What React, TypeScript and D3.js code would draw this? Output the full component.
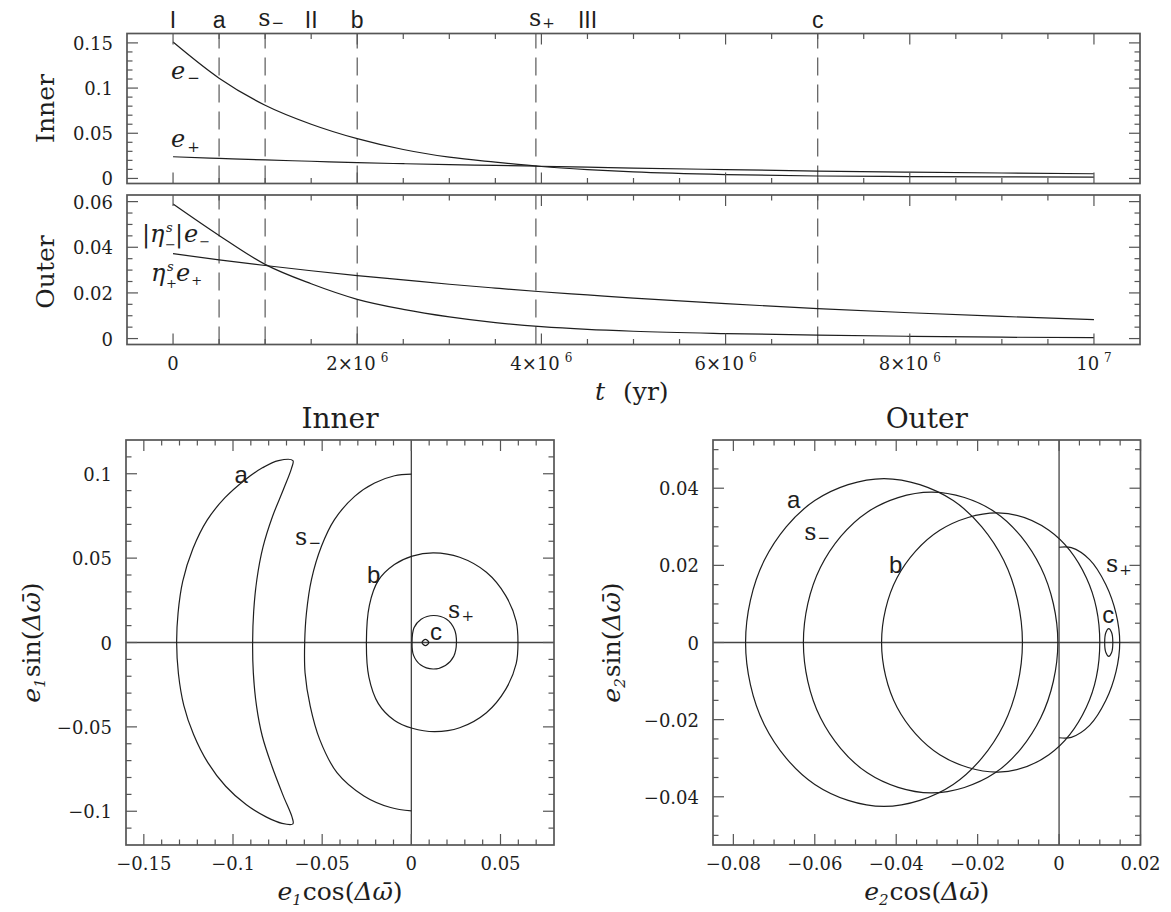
import React, { useEffect, useRef } from 'react';
import * as d3 from 'd3';

// ---- top panels: eccentricities vs time, t in units of 1e6 yr ----
const tMyr = [0, 0.5, 1, 1.5, 2, 2.5, 3, 3.5, 4, 4.5, 5, 6, 7, 8, 9, 10];
const innerEMinus = [0.151, 0.111, 0.081, 0.06, 0.044, 0.032, 0.0235, 0.018, 0.0132, 0.0098, 0.0072, 0.0042, 0.0027, 0.0021, 0.0017, 0.0015];
const innerEPlus = [0.024, 0.0222, 0.0205, 0.019, 0.0175, 0.0163, 0.0153, 0.0144, 0.0135, 0.0125, 0.0115, 0.0098, 0.0082, 0.007, 0.006, 0.0052];
const outerEMinus = [0.059, 0.0452, 0.0325, 0.024, 0.0172, 0.0128, 0.0095, 0.007, 0.0052, 0.004, 0.0032, 0.0022, 0.0015, 0.001, 0.0006, 0.0004];
const outerEPlus = [0.0372, 0.0345, 0.032, 0.0297, 0.0276, 0.0257, 0.0238, 0.0221, 0.0205, 0.0191, 0.0177, 0.0153, 0.0131, 0.0113, 0.0097, 0.0083];

// dashed snapshot times and the region / snapshot labels above the plot
const markerTimes = [0.5, 1, 2, 3.94, 7];
const topLabels = [
  { t: 0, text: 'I', sub: '' },
  { t: 0.5, text: 'a', sub: '' },
  { t: 1, text: 's', sub: '\u2212' },
  { t: 1.5, text: 'II', sub: '' },
  { t: 2, text: 'b', sub: '' },
  { t: 3.94, text: 's', sub: '+' },
  { t: 4.5, text: 'III', sub: '' },
  { t: 7, text: 'c', sub: '' },
];

const timeTicks = [0, 2, 4, 6, 8, 10];
const timeTickText = [['0', ''], ['2\u00d710', '6'], ['4\u00d710', '6'], ['6\u00d710', '6'], ['8\u00d710', '6'], ['10', '7']];
const innerYTicks = [0, 0.05, 0.1, 0.15];
const innerYText = ['0', '0.05', '0.1', '0.15'];
const outerYTicks = [0, 0.02, 0.04, 0.06];
const outerYText = ['0', '0.02', '0.04', '0.06'];

// ---- bottom-left: inner orbit, (e1 cos, e1 sin) trajectories ----
const innerA = [
  [-0.0664, 0.1078], [-0.0745, 0.1078], [-0.0835, 0.1035], [-0.0935, 0.0962],
  [-0.1045, 0.0858], [-0.1145, 0.0725], [-0.1225, 0.0555], [-0.1282, 0.0362], [-0.1308, 0.0175], [-0.1316, 0],
  [-0.1306, -0.0185], [-0.1276, -0.0372], [-0.1221, -0.0545], [-0.1141, -0.0712], [-0.1041, -0.0852],
  [-0.0925, -0.0962], [-0.0812, -0.1035], [-0.0725, -0.1072], [-0.0664, -0.1075],
  [-0.0668, -0.1038], [-0.0718, -0.0909],
  [-0.0782, -0.0732], [-0.0836, -0.0554], [-0.0868, -0.0377], [-0.0886, -0.018], [-0.089, 0],
  [-0.0884, 0.0185], [-0.0866, 0.0375], [-0.0832, 0.0565], [-0.0778, 0.0748], [-0.0718, 0.0905], [-0.0672, 0.1032],
];
const innerSMinus = [
  [0, 0.0998], [-0.0094, 0.0988], [-0.0206, 0.0945], [-0.0318, 0.0866], [-0.0431, 0.0728],
  [-0.0504, 0.057], [-0.056, 0.0373], [-0.0588, 0.0176], [-0.0598, 0], [-0.0596, -0.0179],
  [-0.0567, -0.0377], [-0.0514, -0.0574], [-0.0417, -0.0771], [-0.0266, -0.0909], [-0.0116, -0.0978],
  [0, -0.0998],
];
const innerB = [
  [0.0598, 0], [0.0588, 0.0125], [0.0529, 0.0278], [0.0421, 0.0416], [0.0271, 0.0505],
  [0.0125, 0.0531], [0.0005, 0.0512], [-0.0095, 0.0462], [-0.0185, 0.0368], [-0.0235, 0.0222],
  [-0.0252, 0], [-0.0238, -0.0205], [-0.0185, -0.0362], [-0.0094, -0.0462], [0.0005, -0.0508],
  [0.0131, -0.0528], [0.0271, -0.0505], [0.0421, -0.0416], [0.0529, -0.0278], [0.0588, -0.0125],
];
const innerSPlus = [
  [0.0004, 0], [0.0015, 0.0087], [0.0055, 0.0138], [0.0125, 0.016], [0.0198, 0.0138],
  [0.0242, 0.0077], [0.0253, 0], [0.0238, -0.0081], [0.0191, -0.0136], [0.0122, -0.0157],
  [0.0051, -0.0132], [0.0012, -0.0075],
];
const innerC = [[0.0098, 0], [0.0079, 0.0019], [0.006, 0], [0.0079, -0.0019]];

const innerXTicks = [-0.15, -0.1, -0.05, 0, 0.05];
const innerXText = ['\u22120.15', '\u22120.1', '\u22120.05', '0', '0.05'];
const innerPhaseYTicks = [-0.1, -0.05, 0, 0.05, 0.1];
const innerPhaseYText = ['\u22120.1', '\u22120.05', '0', '0.05', '0.1'];

// ---- bottom-right: outer orbit ----
const outerA = [
  [-0.009, 0], [-0.0136, 0.0213], [-0.026, 0.0368], [-0.043, 0.0425], [-0.06, 0.0368], [-0.0724, 0.0213],
  [-0.077, 0], [-0.0724, -0.0213], [-0.06, -0.0368], [-0.043, -0.0425], [-0.026, -0.0368], [-0.0136, -0.0213],
];
const outerSMinus = [
  [-0.0003, 0], [-0.0045, 0.0195], [-0.0157, 0.0338], [-0.0314, 0.039], [-0.0471, 0.0338], [-0.0586, 0.0195],
  [-0.0628, 0], [-0.0586, -0.0195], [-0.0471, -0.0338], [-0.0314, -0.039], [-0.0157, -0.0338], [-0.0045, -0.0195],
];
const outerB = [
  [0.01, 0], [0.0067, 0.0168], [-0.0025, 0.0291], [-0.015, 0.0336], [-0.0293, 0.0291], [-0.0398, 0.0168],
  [-0.0436, 0], [-0.0398, -0.0168], [-0.0293, -0.0291], [-0.015, -0.0336], [-0.0025, -0.0291], [0.0067, -0.0168],
];
const outerSPlus = [
  [0, 0.0247], [0.003, 0.0246], [0.0075, 0.0215], [0.0115, 0.015], [0.014, 0.0075], [0.0149, 0],
  [0.014, -0.0075], [0.0115, -0.015], [0.0075, -0.0215], [0.003, -0.0246], [0, -0.0247],
];
const outerC = [
  [0.0132, 0], [0.0129, 0.0026], [0.0122, 0.0036], [0.0115, 0.0026],
  [0.0112, 0], [0.0115, -0.0026], [0.0122, -0.0036], [0.0129, -0.0026],
];

const outerXTicks = [-0.08, -0.06, -0.04, -0.02, 0, 0.02];
const outerXText = ['\u22120.08', '\u22120.06', '\u22120.04', '\u22120.02', '0', '0.02'];
const outerPhaseYTicks = [-0.04, -0.02, 0, 0.02, 0.04];
const outerPhaseYText = ['\u22120.04', '\u22120.02', '0', '0.02', '0.04'];

const SERIF = "'DejaVu Serif', 'Liberation Serif', serif";
const SANS = "'Liberation Sans', Arial, sans-serif";
const INK = '#1e1e1e';
const FRAME = '#555';

const steps = (a, b, n) => d3.range(0, n + 1).map(i => a + ((b - a) * i) / n);
const near = (v, arr) => arr.some(m => Math.abs(m - v) < 1e-9);

function drawFrame(g, x, y, xMinor, xMajor, yMinor, yMajor) {
  const [x0, x1] = x.range();
  const [yb, yt] = y.range();
  const tk = g.append('g').attr('stroke', FRAME).attr('stroke-width', 1.2);
  xMinor.forEach(v => {
    const len = near(v, xMajor) ? 11 : 5.5;
    const px = x(v);
    tk.append('line').attr('x1', px).attr('x2', px).attr('y1', yb).attr('y2', yb - len);
    tk.append('line').attr('x1', px).attr('x2', px).attr('y1', yt).attr('y2', yt + len);
  });
  yMinor.forEach(v => {
    const len = near(v, yMajor) ? 11 : 5.5;
    const py = y(v);
    tk.append('line').attr('x1', x0).attr('x2', x0 + len).attr('y1', py).attr('y2', py);
    tk.append('line').attr('x1', x1).attr('x2', x1 - len).attr('y1', py).attr('y2', py);
  });
  g.append('rect')
    .attr('x', x0).attr('y', yt).attr('width', x1 - x0).attr('height', yb - yt)
    .attr('fill', 'none').attr('stroke', FRAME).attr('stroke-width', 1.7);
}

// text made of pieces with their own offsets / sizes / styles
function rich(g, x, y, parts, size, family, anchor = 'start', rotate = 0) {
  const t = g.append('text')
    .attr('transform', `translate(${x},${y}) rotate(${rotate})`)
    .attr('font-family', family)
    .attr('font-size', size)
    .attr('fill', INK)
    .attr('text-anchor', anchor);
  parts.forEach(p => {
    const s = t.append('tspan').text(p.t);
    if (p.dx) s.attr('dx', p.dx);
    if (p.dy) s.attr('dy', p.dy);
    if (p.size) s.attr('font-size', p.size);
    if (p.italic) s.attr('font-style', 'italic');
    if (p.family) s.attr('font-family', p.family);
  });
  return t;
}

function yTickLabels(g, y, x0, vals, texts) {
  vals.forEach((v, i) => {
    g.append('text')
      .attr('x', x0 - 14).attr('y', y(v) + 7)
      .attr('text-anchor', 'end')
      .attr('font-family', SERIF).attr('font-size', 18).attr('fill', INK)
      .text(texts[i]);
  });
}

function xTickLabels(g, x, yb, vals, texts) {
  vals.forEach((v, i) => {
    g.append('text')
      .attr('x', x(v)).attr('y', yb + 25)
      .attr('text-anchor', 'middle')
      .attr('font-family', SERIF).attr('font-size', 18).attr('fill', INK)
      .text(texts[i]);
  });
}

function phaseLabel(idx, fn) {
  return [
    { t: 'e', italic: true },
    { t: idx, italic: true, size: 15, dy: 5 },
    { t: fn + '(', dy: -5, dx: 1 },
    { t: '\u0394', italic: true },
    { t: '\u03c9\u0304', italic: true },
    { t: ')' },
  ];
}

export default function App() {
  const ref = useRef(null);

  useEffect(() => {
    const svg = d3.select(ref.current);
    svg.selectAll('*').remove();
    const root = svg.append('g');

    // ===== top: time evolution =====
    const t = d3.scaleLinear().domain([-0.5, 10.5]).range([127, 1140]);
    const yIn = d3.scaleLinear().domain([-0.0056, 0.1604]).range([183.5, 33.5]);
    const yOut = d3.scaleLinear().domain([-0.0026, 0.0629]).range([344.5, 195]);
    const tMinor = steps(0, 10, 20);
    const line = d3.line().curve(d3.curveMonotoneX);

    const panels = [
      { y: yIn, series: [innerEMinus, innerEPlus], yt: innerYTicks, ytxt: innerYText, minor: steps(0, 0.15, 15), name: 'Inner', mid: 108.5 },
      { y: yOut, series: [outerEMinus, outerEPlus], yt: outerYTicks, ytxt: outerYText, minor: steps(0, 0.06, 12), name: 'Outer', mid: 272 },
    ];
    panels.forEach(p => {
      const g = root.append('g');
      const [yb, ytop] = p.y.range();
      markerTimes.forEach(m => {
        g.append('line')
          .attr('x1', t(m)).attr('x2', t(m)).attr('y1', yb).attr('y2', ytop)
          .attr('stroke', '#666').attr('stroke-width', 1.3).attr('stroke-dasharray', '18,9');
      });
      p.series.forEach(s => {
        g.append('path')
          .attr('d', line(tMyr.map((tv, i) => [t(tv), p.y(s[i])])))
          .attr('fill', 'none').attr('stroke', INK).attr('stroke-width', 1.2);
      });
      drawFrame(g, t, p.y, tMinor, timeTicks, p.minor, p.yt);
      yTickLabels(g, p.y, 127, p.yt, p.ytxt);
      rich(g, 54, p.mid, [{ t: p.name }], 25, SERIF, 'middle', -90);
    });

    // time tick labels under the outer panel
    timeTicks.forEach((v, i) => {
      const [base, exp] = timeTickText[i];
      const parts = [{ t: base }];
      if (exp) parts.push({ t: exp, size: 12, dx: 5, dy: -8 });
      rich(root, t(v), 370, parts, 18, SERIF, 'middle');
    });
    rich(root, 595, 400, [{ t: 't', italic: true }, { t: '(yr)', dx: 18 }], 25, SERIF);

    // labels above the top panel
    topLabels.forEach(l => {
      if (l.sub) {
        rich(root, t(l.t) - 7, 26, [{ t: l.text }, { t: l.sub, size: 15, dx: 1, dy: 2 }], 24, SERIF, 'start');
      } else {
        rich(root, t(l.t), 28, [{ t: l.text }], 23, SANS, 'middle');
      }
    });

    // series labels
    rich(root, 171, 79, [{ t: 'e', italic: true }, { t: '\u2212', size: 15, dx: 2, dy: 4 }], 24, SERIF);
    rich(root, 171, 147, [{ t: 'e', italic: true }, { t: '+', size: 15, dx: 2, dy: 5 }], 24, SERIF);
    // eta labels: base glyphs, then a stacked s / sign column, then the e part
    const etaLabel = (x, y, sub, bars) => {
      rich(root, x, y, bars ? [{ t: '|' }, { t: '\u03b7', italic: true }] : [{ t: '\u03b7', italic: true }], 24, SERIF);
      const sx = x + (bars ? 24 : 16);
      rich(root, sx, y - 10, [{ t: 's', italic: true }], 13, SERIF);
      rich(root, sx - 1, y + 7, [{ t: sub }], 13, SERIF);
      const ex = sx + 9;
      rich(root, ex, y, bars
        ? [{ t: '|' }, { t: 'e', italic: true, dx: 1 }, { t: sub, size: 13, dx: 1, dy: 4 }]
        : [{ t: 'e', italic: true }, { t: sub, size: 13, dx: 1, dy: 4 }], 24, SERIF);
    };
    etaLabel(142, 242, '\u2212', true);
    etaLabel(151, 281, '+', false);

    // ===== bottom: phase portraits =====
    const closed = d3.line().curve(d3.curveCatmullRomClosed.alpha(0.5));
    const open = d3.line().curve(d3.curveCatmullRom.alpha(0.5));

    const phase = [
      {
        x: d3.scaleLinear().domain([-0.16, 0.08]).range([126, 554]),
        y: d3.scaleLinear().domain([-0.12, 0.12]).range([845, 440]),
        xMinor: steps(-0.15, 0.07, 22), xMajor: innerXTicks, xText: innerXText,
        yMinor: steps(-0.11, 0.11, 22), yMajor: innerPhaseYTicks, yText: innerPhaseYText,
        curves: [[innerA, true], [innerSMinus, false], [innerB, true], [innerSPlus, true], [innerC, true]],
        labels: [
          ['a', -0.0992, 0.0945, ''], ['s', -0.0652, 0.0578, '\u2212'], ['b', -0.0248, 0.0353, ''],
          ['c', 0.0105, 0.0015, ''], ['s', 0.0206, 0.0145, '+'],
        ],
        title: 'Inner', idx: '1', ylab: 40,
      },
      {
        x: d3.scaleLinear().domain([-0.085, 0.02]).range([713, 1140.5]),
        y: d3.scaleLinear().domain([-0.0525, 0.0525]).range([845, 440]),
        xMinor: steps(-0.08, 0.02, 20), xMajor: outerXTicks, xText: outerXText,
        yMinor: steps(-0.05, 0.05, 20), yMajor: outerPhaseYTicks, yText: outerPhaseYText,
        curves: [[outerA, true], [outerSMinus, true], [outerB, true], [outerSPlus, false], [outerC, true]],
        labels: [
          ['a', -0.0668, 0.0349, ''], ['s', -0.0626, 0.0266, '\u2212'], ['b', -0.0418, 0.018, ''],
          ['c', 0.0106, 0.0051, ''], ['s', 0.0115, 0.0183, '+'],
        ],
        title: 'Outer', idx: '2', ylab: 620,
      },
    ];

    phase.forEach(p => {
      const g = root.append('g');
      const [x0, x1] = p.x.range();
      const [yb, yt] = p.y.range();
      g.append('line').attr('x1', x0).attr('x2', x1).attr('y1', p.y(0)).attr('y2', p.y(0))
        .attr('stroke', '#444').attr('stroke-width', 1.3);
      g.append('line').attr('x1', p.x(0)).attr('x2', p.x(0)).attr('y1', yb).attr('y2', yt)
        .attr('stroke', '#444').attr('stroke-width', 1.3);
      p.curves.forEach(([pts, isClosed]) => {
        const px = pts.map(([a, b]) => [p.x(a), p.y(b)]);
        g.append('path')
          .attr('d', (isClosed ? closed : open)(px))
          .attr('fill', 'none').attr('stroke', INK).attr('stroke-width', 1.2);
      });
      drawFrame(g, p.x, p.y, p.xMinor, p.xMajor, p.yMinor, p.yMajor);
      yTickLabels(g, p.y, x0, p.yMajor, p.yText);
      xTickLabels(g, p.x, yb, p.xMajor, p.xText);

      p.labels.forEach(([txt, lx, ly, sub]) => {
        if (sub) {
          rich(g, p.x(lx), p.y(ly), [{ t: txt }, { t: sub, size: 15, dx: 1, dy: 3 }], 24, SERIF);
        } else {
          rich(g, p.x(lx), p.y(ly), [{ t: txt }], 24, SANS);
        }
      });

      rich(g, (x0 + x1) / 2, 428, [{ t: p.title }], 28, SERIF, 'middle');
      rich(g, (x0 + x1) / 2, 900, phaseLabel(p.idx, 'cos'), 25, SERIF, 'middle');
      rich(g, p.ylab, p.y(0), phaseLabel(p.idx, 'sin'), 25, SERIF, 'middle', -90);
    });
  }, []);

  return (
    <svg
      ref={ref}
      width={1171}
      height={912}
      style={{ position: 'absolute', left: 0, top: 0, background: '#fff', display: 'block' }}
    />
  );
}
